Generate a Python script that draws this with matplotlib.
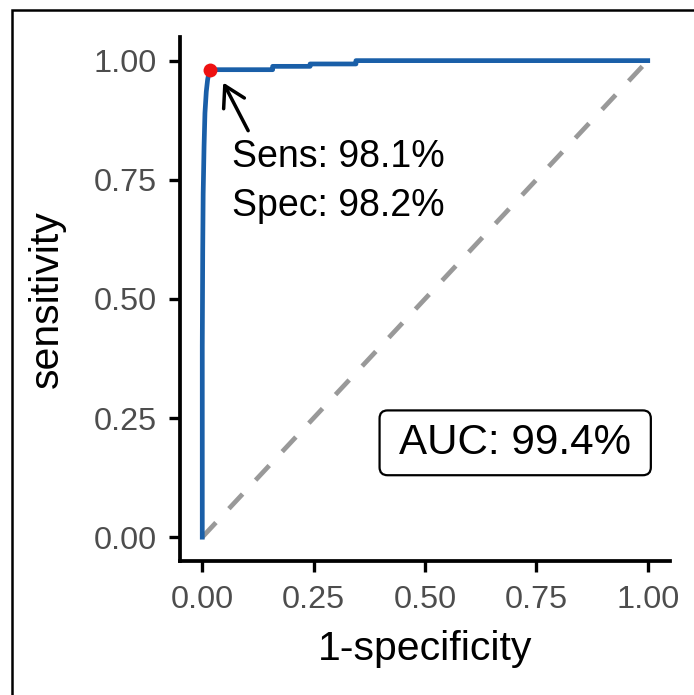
import matplotlib
matplotlib.use("Agg")
import matplotlib.pyplot as plt
from matplotlib.patches import Rectangle, FancyBboxPatch

plt.rcParams['font.family'] = ['Liberation Sans', 'DejaVu Sans']
plt.rcParams['lines.scale_dashes'] = False

# ROC curve data (1-specificity, sensitivity)
fpr = [0.0, 0.0, 0.001, 0.002, 0.004, 0.006, 0.009, 0.012, 0.015, 0.018,
       0.158, 0.158, 0.242, 0.242, 0.345, 0.345, 1.0]
tpr = [0.0, 0.40, 0.60, 0.72, 0.82, 0.89, 0.935, 0.960, 0.975, 0.981,
       0.981, 0.988, 0.988, 0.993, 0.993, 1.0, 1.0]

best_fpr = 0.018
best_tpr = 0.981
sens_label = "Sens: 98.1%"
spec_label = "Spec: 98.2%"
auc_label = "AUC: 99.4%"

ticks = [0.0, 0.25, 0.5, 0.75, 1.0]
tick_labels = ["0.00", "0.25", "0.50", "0.75", "1.00"]

W, H = 694, 695
fig = plt.figure(figsize=(W / 100, H / 100), dpi=100)
ax = fig.add_axes([180 / W, 1 - 561 / H, (670 - 180) / W, (561 - 36.8) / H])

# diagonal reference
ax.plot([0, 1], [0, 1], color="#999999", lw=3.4, linestyle=(0, (14.4, 13.7)),
        solid_capstyle='butt', zorder=2)
# ROC curve
ax.plot(fpr, tpr, color="#1A5FA8", lw=3.4, zorder=3, solid_joinstyle='round')
# best point
ax.plot([best_fpr], [best_tpr], 'o', color="#EE1111", markersize=10,
        markeredgewidth=0, zorder=4)

# arrow
ax.annotate('', xy=(0.047, 0.954), xytext=(0.103, 0.853),
            arrowprops=dict(arrowstyle='->,head_length=0.6,head_width=0.35',
                            lw=2.5, color='black', mutation_scale=24,
                            shrinkA=0, shrinkB=0))
ax.text(0.067, 0.776, sens_label, fontsize=27, ha='left', va='baseline', color='black')
ax.text(0.067, 0.675, spec_label, fontsize=27, ha='left', va='baseline', color='black')

# AUC label with rounded frame
ax.add_patch(FancyBboxPatch((0.398, 0.130), 0.609, 0.136,
                            boxstyle='round,pad=0,rounding_size=0.018',
                            mutation_aspect=445.5 / 477.3,
                            fc='white', ec='black', lw=1.6, zorder=5))
ax.text(0.702, 0.198, auc_label, fontsize=30.3, ha='center', va='center', color='black',
        zorder=6)

ax.set_xlim(-0.05, 1.05)
ax.set_ylim(-0.05, 1.05)
ax.set_xticks(ticks)
ax.set_xticklabels(tick_labels)
ax.set_yticks(ticks)
ax.set_yticklabels(tick_labels)
ax.tick_params(axis='both', labelsize=23.3, labelcolor="#4D4D4D", color='black',
               width=2.4, length=8)
ax.tick_params(axis='x', pad=9)
ax.tick_params(axis='y', pad=9)
for s in ['top', 'right']:
    ax.spines[s].set_visible(False)
for s in ['left', 'bottom']:
    ax.spines[s].set_linewidth(2.7)
    ax.spines[s].set_color('black')

ax.set_xlabel("1-specificity", fontsize=29.5, labelpad=11)
ax.set_ylabel("sensitivity", fontsize=29.5, labelpad=20)

# figure border
fig.patches.append(Rectangle((12 / W, -0.1), 1.2, 1 - 10 / H + 0.1, transform=fig.transFigure,
                             fill=False, ec='black', lw=1.8, zorder=10))

fig.savefig("out.png", dpi=100)
